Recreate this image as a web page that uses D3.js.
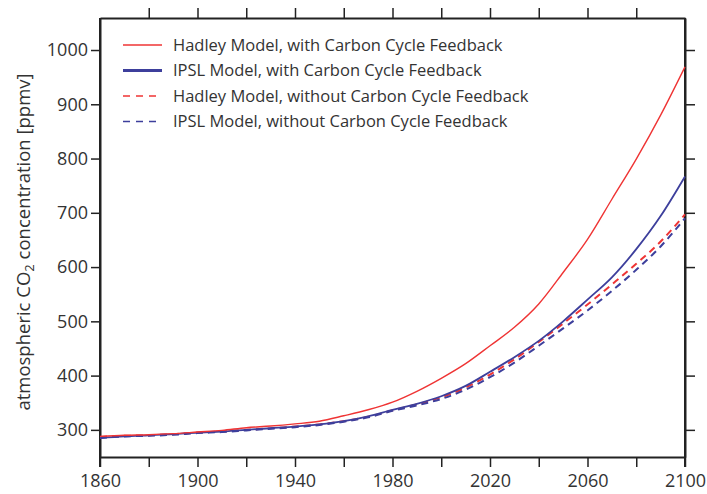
<!DOCTYPE html>
<html>
<head>
<meta charset="utf-8">
<script src="https://cdn.jsdelivr.net/npm/d3@7"></script>
<style>
  body { margin: 0; background: #fff; }
  svg { display: block; font-family: "Open Sans", sans-serif; }
</style>
</head>
<body>
<svg id="chart" width="707" height="494"></svg>
<script>
// years shared by all four runs
const years = [1860, 1870, 1880, 1890, 1900, 1910, 1920, 1930, 1940, 1950, 1960, 1970, 1980,
               1990, 2000, 2010, 2020, 2030, 2040, 2050, 2060, 2070, 2080, 2090, 2100];

// CO2 in ppmv
const hadleyWith    = [288, 290, 291, 293, 296, 299, 304, 307, 311, 316, 326, 337, 351,
                       371, 395, 422, 455, 489, 532, 590, 651, 725, 799, 880, 969];
const ipslWith      = [285, 288, 290, 292, 295, 297, 300, 303, 306, 310, 316, 325, 337,
                       348, 362, 381, 407, 434, 464, 500, 540, 581, 633, 694, 767];
const hadleyWithout = [287, 289, 290, 292, 295, 297, 300, 303, 306, 310, 316, 324, 336,
                       347, 360, 378, 402, 430, 462, 496, 531, 568, 606, 647, 697];
const ipslWithout   = [285, 288, 289, 291, 294, 296, 299, 302, 305, 309, 315, 323, 335,
                       345, 357, 374, 397, 424, 455, 487, 520, 556, 595, 638, 690];

const yTicks = [300, 400, 500, 600, 700, 800, 900, 1000];
const xTicks = [1860, 1880, 1900, 1920, 1940, 1960, 1980, 2000, 2020, 2040, 2060, 2080, 2100];

const series = [
  { name: "Hadley Model, with Carbon Cycle Feedback", values: hadleyWith, color: "#ef3434", width: 1.4, legendWidth: 1.4, dash: null },
  { name: "IPSL Model, with Carbon Cycle Feedback", values: ipslWith, color: "#3d3f9c", width: 1.8, legendWidth: 3, dash: null },
  { name: "Hadley Model, without Carbon Cycle Feedback", values: hadleyWithout, color: "#ef3434", width: 2, legendWidth: 1.4, dash: "7,5" },
  { name: "IPSL Model, without Carbon Cycle Feedback", values: ipslWithout, color: "#3d3f9c", width: 2, legendWidth: 1.4, dash: "7,5" }
];

const svg = d3.select("#chart");
const margin = { top: 18, right: 22, bottom: 37, left: 100 };
const width = 707 - margin.left - margin.right;
const height = 494 - margin.top - margin.bottom;

const x = d3.scaleLinear().domain([1860, 2100]).range([0, width]);
const y = d3.scaleLinear().domain([250, 1059]).range([height, 0]);

const g = svg.append("g").attr("transform", `translate(${margin.left},${margin.top})`);

const axisColor = "#222";
const textColor = "#333";

function styleAxis(sel) {
  sel.select(".domain").attr("stroke", axisColor).attr("stroke-width", 2);
  sel.selectAll(".tick line").attr("stroke", axisColor).attr("stroke-width", 1.5);
  sel.selectAll(".tick text").attr("fill", textColor).attr("font-size", 18).attr("font-family", "Open Sans");
}

// left axis with labels
g.append("g")
  .call(d3.axisLeft(y).tickValues(yTicks).tickSize(9).tickSizeOuter(0).tickPadding(3)
    .tickFormat(d3.format("d")))
  .call(styleAxis);

// right axis, ticks only
g.append("g")
  .attr("transform", `translate(${width},0)`)
  .call(d3.axisRight(y).tickValues(yTicks).tickSize(10).tickSizeOuter(0).tickFormat(""))
  .call(styleAxis);

// bottom axis, label every 40 years
g.append("g")
  .attr("transform", `translate(0,${height})`)
  .call(d3.axisBottom(x).tickValues(xTicks).tickSize(10).tickSizeOuter(0).tickPadding(7)
    .tickFormat(d => (d - 1860) % 40 === 0 ? d : ""))
  .call(styleAxis);

// top axis, ticks only
g.append("g")
  .call(d3.axisTop(x).tickValues(xTicks.slice(1, -1)).tickSize(10).tickSizeOuter(0).tickFormat(""))
  .call(styleAxis);

// left/right frame lines run down through the end ticks
g.append("line").attr("x1", 0).attr("x2", 0).attr("y1", 0).attr("y2", height + 10)
  .attr("stroke", axisColor).attr("stroke-width", 2);
g.append("line").attr("x1", width).attr("x2", width).attr("y1", 0).attr("y2", height + 10)
  .attr("stroke", axisColor).attr("stroke-width", 2);

const line = d3.line()
  .x((d, i) => x(years[i]))
  .y(d => y(d))
  .curve(d3.curveMonotoneX);

// draw dashed first so solid ones sit on top
[2, 3, 1, 0].forEach(i => {
  const s = series[i];
  g.append("path")
    .datum(s.values)
    .attr("fill", "none")
    .attr("stroke", s.color)
    .attr("stroke-width", s.width)
    .attr("stroke-dasharray", s.dash)
    .attr("d", line);
});

// legend
const legend = g.append("g").attr("transform", "translate(23,27)");
series.forEach((s, i) => {
  const row = legend.append("g").attr("transform", `translate(0,${i * 25.5})`);
  row.append("line")
    .attr("x1", 0).attr("x2", 39)
    .attr("stroke", s.color)
    .attr("stroke-width", s.legendWidth)
    .attr("stroke-dasharray", s.dash ? "7,6" : null);
  row.append("text")
    .attr("x", 50)
    .attr("dy", "0.35em")
    .attr("fill", textColor)
    .attr("font-size", 16.5)
    .text(s.name);
});

// y axis title with subscript 2
const yTitle = svg.append("text")
  .attr("transform", `translate(30,${margin.top + 224}) rotate(-90)`)
  .attr("text-anchor", "middle")
  .attr("fill", textColor)
  .attr("font-size", 18.5);
yTitle.append("tspan").text("atmospheric CO");
yTitle.append("tspan").attr("font-size", 13).attr("dy", 4).text("2");
yTitle.append("tspan").attr("dy", -4).text(" concentration [ppmv]");
</script>
</body>
</html>
